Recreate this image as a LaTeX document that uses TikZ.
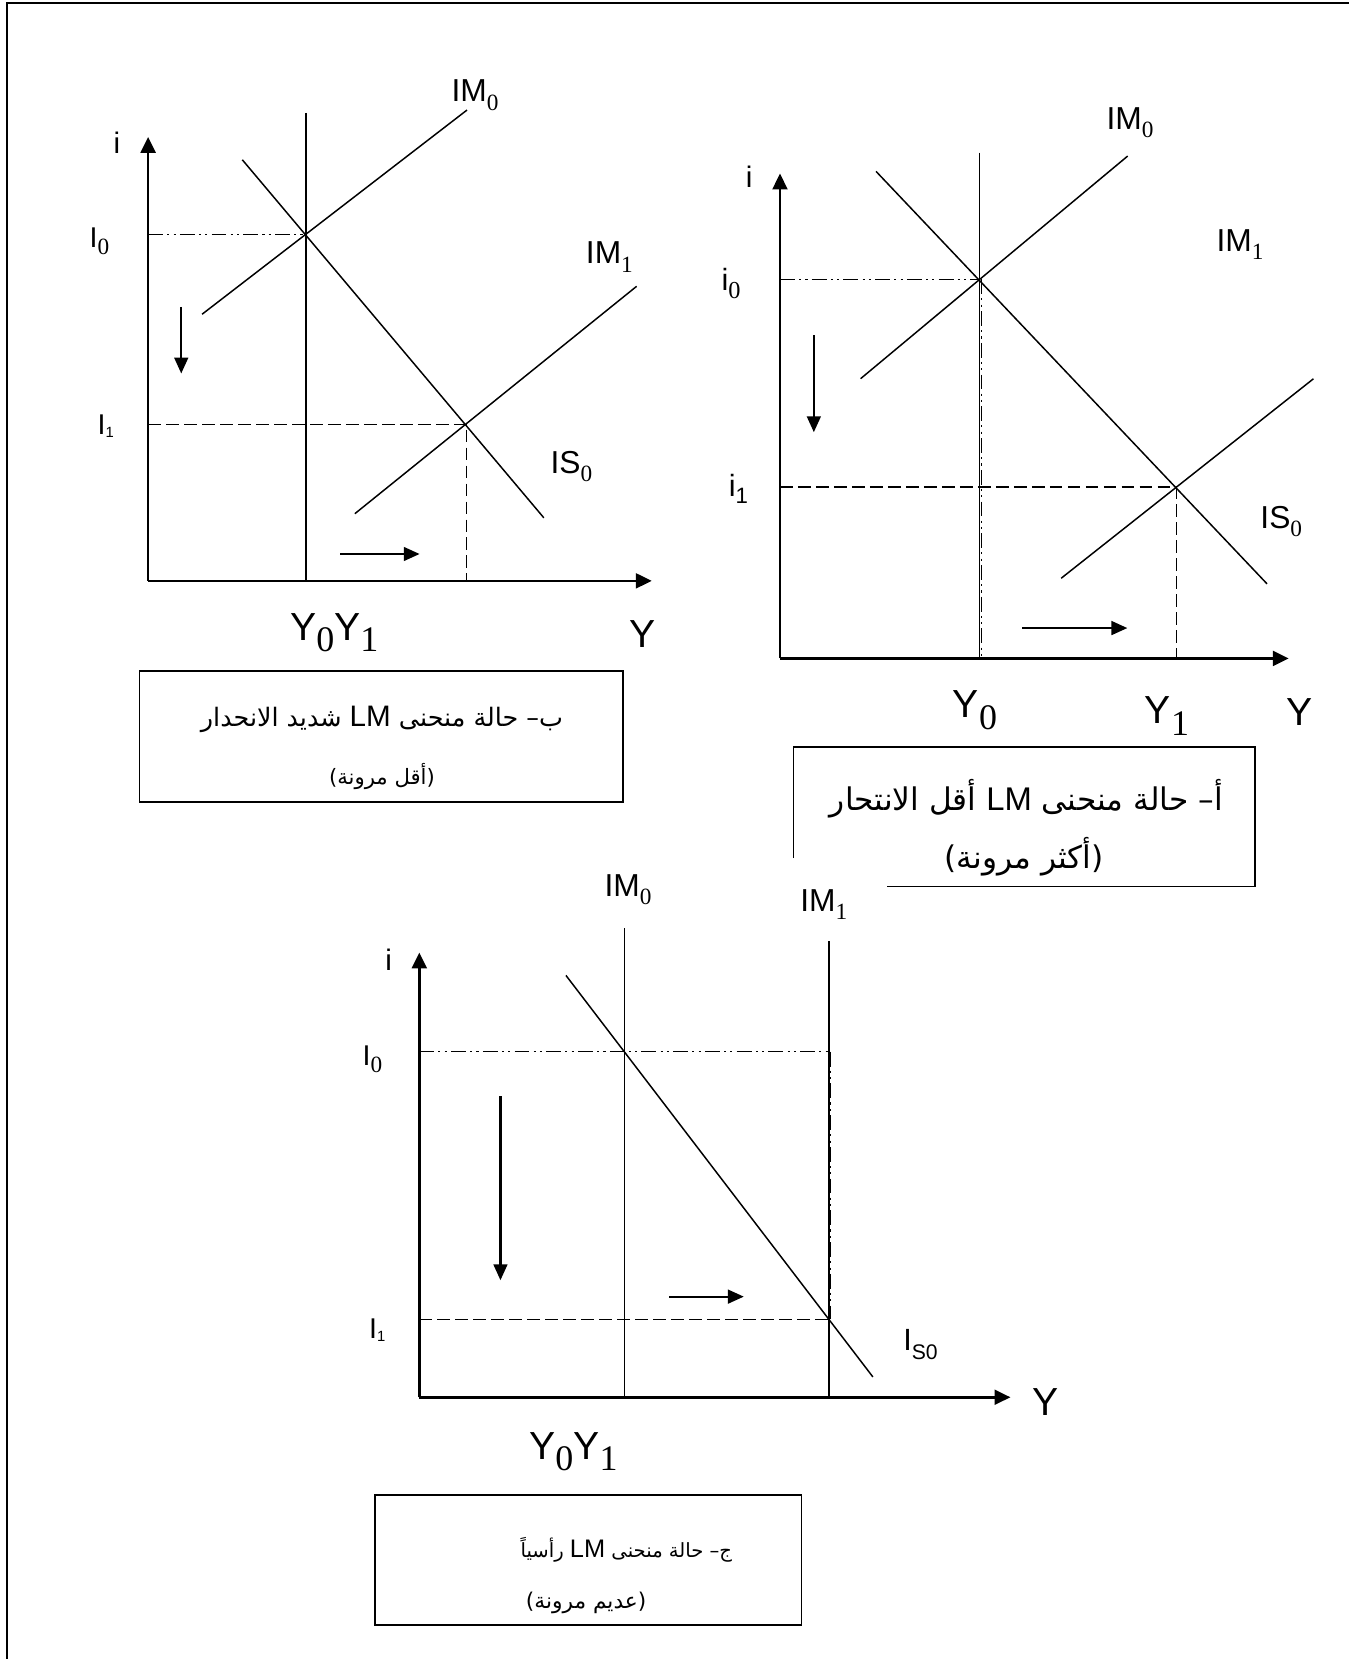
\documentclass[tikz,border=0pt]{standalone}
\usepackage{fontspec}
\setmainfont{Liberation Sans}
\newfontfamily\lsans{Liberation Sans}
\newfontfamily\lserif{Liberation Serif}
\newfontfamily\arabfont[Script=Arabic]{DejaVu Sans}
\TeXXeTstate=1
\usetikzlibrary{arrows.meta}
\newcommand{\fsz}[1]{\fontsize{#1}{#1}\selectfont}
\newcommand{\IMlab}[1]{{\lsans\fsz{30}IM}\raisebox{-8pt}{\lserif\fsz{22}#1}}
\newcommand{\ISlab}[1]{{\lsans\fsz{30}IS}\raisebox{-8pt}{\lserif\fsz{22}#1}}
\newcommand{\Ylab}[1]{{\lsans\fsz{37}Y}\raisebox{-11pt}{\lserif\fsz{34}#1}}
\newcommand{\Izero}{{\lsans\fsz{27}I}\raisebox{-7pt}{\lserif\fsz{22}0}}
\newcommand{\Ione}{{\lsans\fsz{27}I}\raisebox{-3pt}{\lsans\fsz{14}1}}
\newcommand{\LMw}[1]{{\lsans\fsz{#1}\beginL LM\endL}}
\begin{document}
\begin{tikzpicture}[x=1pt,y=-1pt,
  ax/.style={line width=2.5pt,-{Triangle[length=15pt,width=14pt]}},
  crv/.style={line width=1.4pt},
  dsh/.style={line width=1.4pt,dash pattern=on 12pt off 5pt},
  ddot/.style={line width=1.4pt,dash pattern=on 14pt off 4pt on 2pt off 4pt on 2pt off 4pt},
  mv/.style={line width=2.1pt,-{Triangle[length=15pt,width=13pt]}},
  boxl/.style={line width=1.4pt},
  lbl/.style={inner sep=0pt,anchor=center},
  atxt/.style={inner sep=0pt,anchor=center}]
\useasboundingbox (0,0) rectangle (1275,1568);
% outer frame (top and left edges)
\draw[line width=2pt] (6.3,1568) -- (6.3,3) -- (1275,3);

% ================= Panel B (top left) =================
\coordinate (bO) at (140,549);
\coordinate (bYt) at (140,129.4);
\coordinate (bXt) at (616,549);
\coordinate (bV0) at (289,106.7);
\coordinate (bV0b) at (289,549);
\coordinate (bE0) at (289,221.5);
\coordinate (bE1) at (441,401);
\coordinate (bE1b) at (441,549);
\coordinate (bI0) at (140,221.5);
\coordinate (bI1) at (140,401);
\draw[crv] (bV0) -- (bV0b);
\draw[crv] (191,297) coordinate (bM0a) -- (441.4,104) coordinate (bM0b);
\draw[crv] (229,151) coordinate (bSa) -- (514,489.4) coordinate (bSb);
\draw[crv] (335.4,485.5) coordinate (bM1a) -- (601.7,270.6) coordinate (bM1b);
\draw[ddot] (bI0) -- (bE0);
\draw[dsh] (bI1) -- (bE1) -- (bE1b);
\draw[ax] (bO) -- (bYt);
\draw[ax] (bO) -- (bXt);
\draw[mv] (171.3,290) coordinate (bda) -- (171.3,353) coordinate (bdb);
\draw[mv] (321.5,523.6) coordinate (bra) -- (396.6,523.6) coordinate (brb);
\node[lbl] (bi) at (110.6,135) {\lsans\fsz{28}i};
\node[lbl] (bI0l) at (94,228) {\Izero};
\node[lbl] (bI1l) at (100,403) {\Ione};
\node[lbl] (bIM0) at (449,90) {\IMlab{0}};
\node[lbl] (bIM1) at (576,243) {\IMlab{1}};
\node[lbl] (bIS0) at (540,441) {\ISlab{0}};
\node[lbl] (bY01) at (316,598) {\Ylab{0}\Ylab{1}};
\node[lbl] (bY) at (607,599) {\lsans\fsz{37}Y};
\draw[boxl] (132,634) rectangle (589,758);
\node[atxt] (bt1) at (361,680) {\arabfont\fsz{24}\beginR ب– حالة منحنى \LMw{28} شديد الانحدار\endR};
\node[atxt] (bt2) at (361,734) {\arabfont\fsz{20}\beginR (أقل مرونة)\endR};

% ================= Panel A (top right) =================
\coordinate (aO) at (737.2,622.3);
\coordinate (aYt) at (737.2,164);
\coordinate (aXt) at (1218,622.3);
\coordinate (aV0) at (926,144.3);
\coordinate (aV0b) at (926,622.3);
\coordinate (aE0) at (926,264);
\coordinate (aE1) at (1112,460.5);
\coordinate (aE1b) at (1112,622.3);
\coordinate (aI0) at (737.2,264);
\coordinate (aI1) at (737.2,460.5);
\draw[crv] (aV0) -- (aV0b);
\draw[crv] (813.4,357.9) coordinate (aM0a) -- (1065.8,147.5) coordinate (aM0b);
\draw[crv] (828,162) coordinate (aSa) -- (1197.5,551.8) coordinate (aSb);
\draw[crv] (1003,546.5) coordinate (aM1a) -- (1241.4,358) coordinate (aM1b);
\draw[ddot] (aI0) -- (aE0);
\draw[ddot] (927.6,264) coordinate (aOv1) -- (927.6,622.3) coordinate (aOv2);
\draw[dsh] (aI1) -- (aE1) -- (aE1b);
\draw[ax] (aO) -- (aYt);
\draw[ax] (aO) -- (aXt);
\draw[mv] (769.2,317) coordinate (ada) -- (769.2,408.5) coordinate (adb);
\draw[mv] (966,593.6) coordinate (ara) -- (1065.5,593.6) coordinate (arb);
\node[lbl] (ai) at (708,167) {\lsans\fsz{28}i};
\node[lbl] (ai0) at (691,268) {{\lsans\fsz{29}i}\raisebox{-7pt}{\lserif\fsz{23}0}};
\node[lbl] (ai1) at (698,462) {{\lsans\fsz{29}i}\raisebox{-7pt}{\lsans\fsz{21}1}};
\node[lbl] (aIM0) at (1068,116) {\IMlab{0}};
\node[lbl] (aIM1) at (1172,231) {\IMlab{1}};
\node[lbl] (aIS0) at (1211,493) {\ISlab{0}};
\node[lbl] (aY0) at (921.5,671) {\Ylab{0}};
\node[lbl] (aY1) at (1103,677) {\Ylab{1}};
\node[lbl] (aY) at (1228,673) {\lsans\fsz{37}Y};
\draw[boxl] (750,811) -- (750,706) -- (1186,706) -- (1186,838) -- (838.6,838);
\node[atxt] (at1) at (970,755) {\arabfont\fsz{29.5}\beginR أ– حالة منحنى \LMw{31} أقل الانتحار\endR};
\node[atxt] (at2) at (968,810) {\arabfont\fsz{29.5}\beginR (أكثر مرونة)\endR};

% ================= Panel C (bottom) =================
\coordinate (cO) at (396.3,1320.6);
\coordinate (cYt) at (396.3,900.3);
\coordinate (cXt) at (955,1320.6);
\coordinate (cV0) at (590,877.5);
\coordinate (cV0b) at (590,1320.6);
\coordinate (cV1) at (783.4,889.8);
\coordinate (cV1b) at (783.4,1320.6);
\coordinate (cE0) at (783.4,994);
\coordinate (cE1) at (783.4,1247);
\coordinate (cI0) at (396.3,994);
\coordinate (cI1) at (396.3,1247);
\draw[crv] (cV0) -- (cV0b);
\draw[crv] (cV1) -- (cV1b);
\draw[crv] (534.9,921.9) coordinate (cSa) -- (825,1301.4) coordinate (cSb);
\draw[ddot] (cI0) -- (cE0);
\draw[ddot] (784.6,994) coordinate (cOv1) -- (784.6,1247) coordinate (cOv2);
\draw[dsh] (cI1) -- (cE1);
\draw[ax] (cO) -- (cYt);
\draw[ax] (cO) -- (cXt);
\draw[mv] (473,1036) coordinate (cda) -- (473,1210) coordinate (cdb);
\draw[mv] (632.5,1225.5) coordinate (cra) -- (703,1225.5) coordinate (crb);
\node[lbl] (ci) at (367.4,907) {\lsans\fsz{28}i};
\node[lbl] (cI0l) at (352,1001) {\Izero};
\node[lbl] (cI1l) at (356.5,1257) {\Ione};
\node[lbl] (cIM0) at (593.5,841) {\IMlab{0}};
\node[lbl] (cIM1) at (778.6,855) {\IMlab{1}};
\node[lbl] (cIS0) at (870,1271) {{\lsans\fsz{29}I}\raisebox{-8pt}{\lsans\fsz{20}S0}};
\node[lbl] (cY01) at (542,1372) {\Ylab{0}\Ylab{1}};
\node[lbl] (cY) at (988,1325) {\lsans\fsz{37}Y};
\draw[boxl] (354.4,1413) rectangle (757.7,1536);
\node[atxt] (ct1) at (592,1465) {\arabfont\fsz{18.5}\beginR ج– حالة منحنى \LMw{24} رأسياً\endR};
\node[atxt] (ct2) at (554,1515) {\arabfont\fsz{20.5}\beginR (عديم مرونة)\endR};
\end{tikzpicture}
\end{document}
